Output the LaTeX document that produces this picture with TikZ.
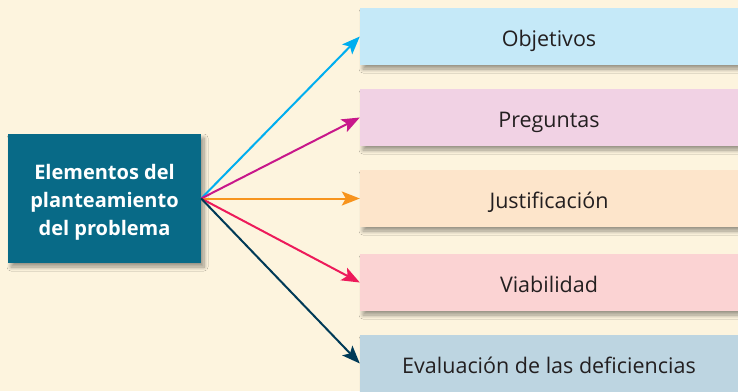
\documentclass[tikz,border=0pt]{standalone}
\usepackage{fontspec}
\setmainfont{Open Sans}
\usetikzlibrary{arrows.meta,shadows.blur}
\definecolor{bgc}{HTML}{FDF4DE}
\definecolor{teal}{HTML}{086A87}
\definecolor{txt}{HTML}{231F20}
\definecolor{fO}{HTML}{C5E9F8}\definecolor{aO}{HTML}{00AEEF}
\definecolor{fP}{HTML}{F1D2E4}\definecolor{aP}{HTML}{C8178A}
\definecolor{fJ}{HTML}{FDE5CB}\definecolor{aJ}{HTML}{F7941D}
\definecolor{fV}{HTML}{FBD3D3}\definecolor{aV}{HTML}{ED1A5A}
\definecolor{fE}{HTML}{BDD5E1}\definecolor{aE}{HTML}{003A57}
\tikzset{
  shd/.style={blur shadow={shadow xshift=3pt,shadow yshift=-4pt,shadow blur radius=4pt,shadow blur steps=8,shadow opacity=40}},
  mainbox/.style={shd,fill=teal,minimum width=193pt,minimum height=129pt,inner sep=0pt,
    text=white,font=\fontsize{20}{28}\selectfont\bfseries,align=center,
    text height=73pt,text depth=0pt},
  itembox/.style={shd,minimum width=378pt,minimum height=57pt,inner sep=0pt,
    text=txt,font=\fontsize{21.5}{24}\selectfont,text height=20pt,text depth=0pt},
  conn/.style={line width=2pt,-{Stealth[length=18pt,width=14pt,inset=4pt]}}
}
\begin{document}
\begin{tikzpicture}[x=1pt,y=-1pt]
\fill[bgc] (0,0) rectangle (738,391);
\useasboundingbox (0,0) rectangle (738,391);
\node[mainbox] (L) at (104.5,198.5) {Elementos del\\planteamiento\\del problema};
\node[itembox,fill=fO] (O) at (549,36.5) {Objetivos};
\node[itembox,fill=fP] (P) at (549,117.5) {Preguntas};
\node[itembox,fill=fJ] (J) at (549,198.5) {Justificación};
\node[itembox,fill=fV] (V) at (549,282.5) {Viabilidad};
\node[itembox,fill=fE] (E) at (549,363.5) {Evaluación de las deficiencias};
\coordinate (S) at (L.east);
\draw[conn,aO] (S) -- (O.west);
\draw[conn,aP] (S) -- (P.west);
\draw[conn,aJ] (S) -- (J.west);
\draw[conn,aV] (S) -- (V.west);
\draw[conn,aE] (S) -- (E.west);
\end{tikzpicture}
\end{document}
